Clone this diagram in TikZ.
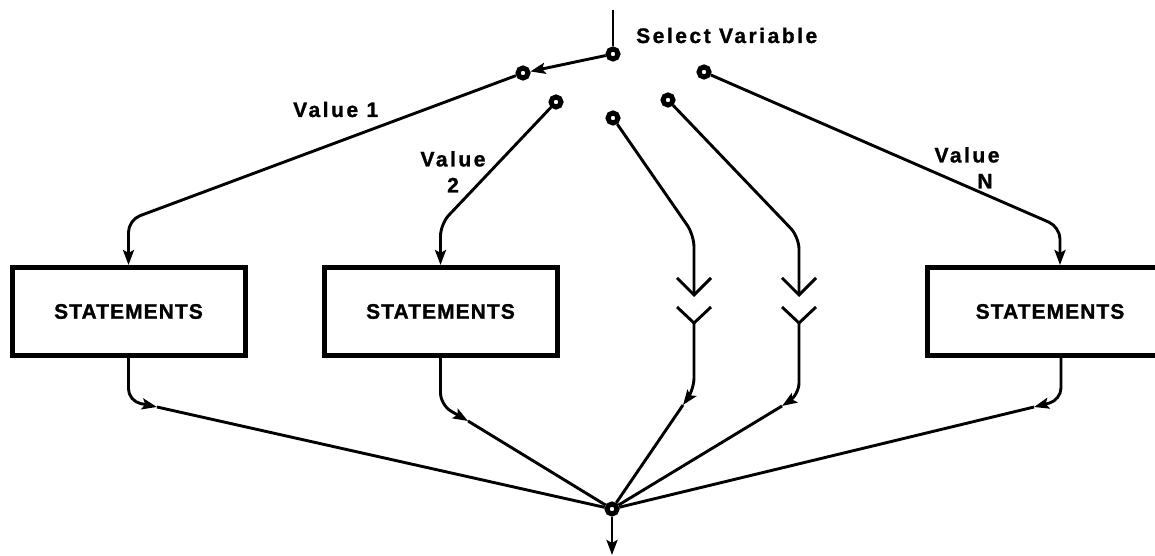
\documentclass[tikz,border=0pt]{standalone}
\usepackage{fontspec}
\newfontfamily\lblfont[LetterSpace=12,FakeBold=1.2]{Liberation Sans}
\newfontfamily\boxfont[LetterSpace=5,FakeBold=1.2]{Liberation Sans}
\usetikzlibrary{arrows.meta}
\begin{document}
\begin{tikzpicture}[x=1pt,y=-1pt,
  wire/.style={line width=2.9pt},
  arr/.style={wire,-{Stealth[length=15pt,width=11pt,inset=3pt]}},
  barb/.style={wire,-{Straight Barb[length=17pt,width=34pt]}},
  term/.style={circle,draw,line width=5pt,fill=white,inner sep=0pt,minimum size=10pt},
  stmt/.style={draw,line width=5pt,minimum width=233pt,minimum height=88pt,inner sep=0pt,
    font=\boxfont\bfseries\fontsize{21pt}{25pt}\selectfont},
  lbl/.style={font=\lblfont\bfseries\fontsize{21pt}{26pt}\selectfont,inner sep=0pt},
  rc/.style={rounded corners=12pt}
]
\fill[white] (0,0) rectangle (1155,556);
\useasboundingbox (0,0) rectangle (1155,556);

% switch terminals
\node[term] (p)  at (613,54) {};
\node[term] (v1) at (523,73) {};
\node[term] (v2) at (556,102) {};
\node[term] (v3) at (613,118) {};
\node[term] (v4) at (668,100) {};
\node[term] (vn) at (704,72) {};
\node[term] (j)  at (612,509) {};

% boxes
\node[stmt] (b1) at (128.5,311.5) {STATEMENTS};
\node[stmt] (b2) at (440.5,311.5) {STATEMENTS};
\node[stmt,minimum width=245pt] (b3) at (1050,311.5) {STATEMENTS};

% labels
\node[lbl,anchor=base west] (sel) at (636,43) {Select Variable};
\node[lbl,anchor=base west] (l1) at (293,117) {Value 1};
\node[lbl,anchor=north,align=center] (l2) at (453,151) {Value\\2};
\node[lbl,anchor=north,align=center] (ln) at (967,147) {Value\\\hspace*{36pt}N};

% coordinates
\coordinate (top) at (613,10);
\coordinate (c1) at (128.5,220);
\coordinate (c2) at (440.5,224);
\coordinate (cn) at (1060,227);
\coordinate (c3) at (694,235);
\coordinate (t3) at (694,297);
\coordinate (y3) at (694,323);
\coordinate (l3) at (677,307);
\coordinate (r3) at (711,307);
\coordinate (c4) at (799,237);
\coordinate (t4) at (799,297);
\coordinate (y4) at (799,323);
\coordinate (l4) at (782,307);
\coordinate (r4) at (816,307);
\coordinate (d1) at (128.5,401);
\coordinate (a1) at (157,407);
\coordinate (d2) at (440.5,405);
\coordinate (a2) at (468,421);
\coordinate (d3) at (694,390);
\coordinate (a3) at (683,405);
\coordinate (d4) at (799,395);
\coordinate (a4) at (782,406);
\coordinate (dn) at (1061,400);
\coordinate (an) at (1034,407);
\coordinate (out) at (612,555);

% input and selector
\draw[wire] (top) -- (p);
\draw[arr] (p) -- (v1);

% branches down
\draw[arr,rc] (v1) -- (c1) -- (c1 |- b1.north);
\draw[arr,rc] (v2) -- (c2) -- (c2 |- b2.north);
\draw[arr,rc] (vn) -- (cn) -- (cn |- b3.north);
\draw[barb,rc] (v3) -- (c3) -- (t3);
\draw[barb,rc] (v4) -- (c4) -- (t4);
\draw[wire] (l3) -- (y3) -- (r3);
\draw[wire] (l4) -- (y4) -- (r4);

% merge
\draw[arr,rc] (b1.south) -- (d1) -- (a1);
\draw[arr,rc] (b2.south) -- (d2) -- (a2);
\draw[arr,rc] (y3) -- (d3) -- (a3);
\draw[arr,rc] (y4) -- (d4) -- (a4);
\draw[arr,rc] (dn |- b3.south) -- (dn) -- (an);
\draw[wire] (a1) -- (j);
\draw[wire] (a2) -- (j);
\draw[wire] (a3) -- (j);
\draw[wire] (a4) -- (j);
\draw[wire] (an) -- (j);
\draw[arr] (j) -- (out);
\end{tikzpicture}
\end{document}
